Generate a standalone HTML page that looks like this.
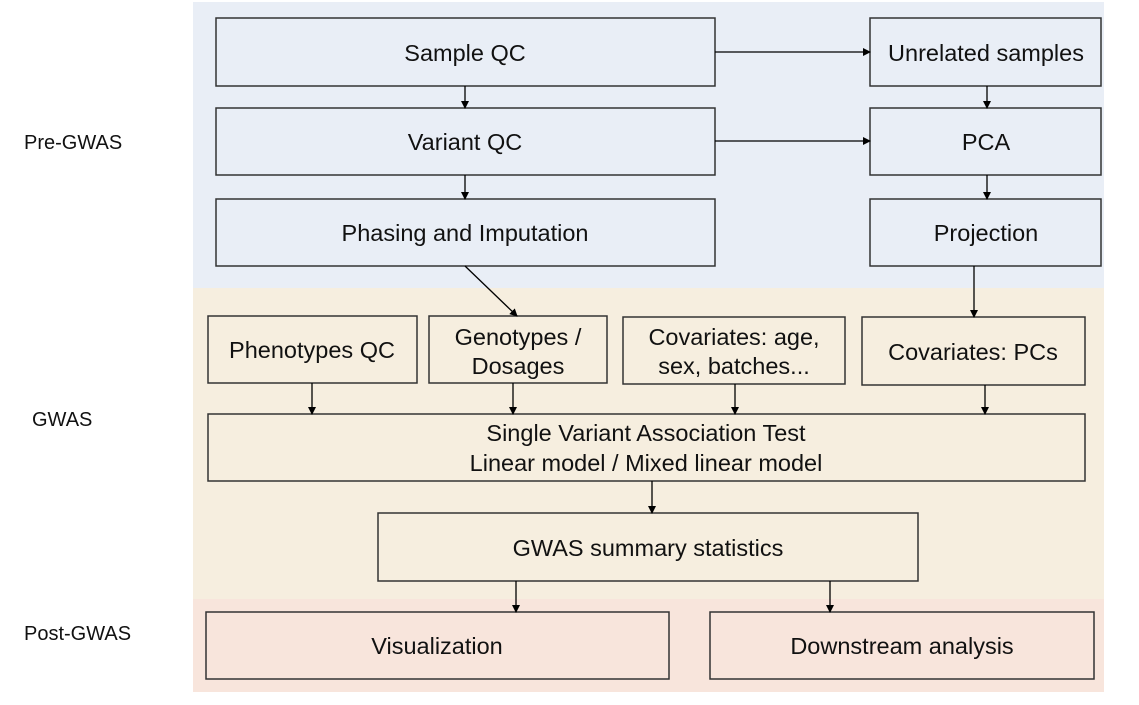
<!DOCTYPE html>
<html><head><style>
body{margin:0;width:1139px;height:700px;background:#fff;font-family:"Liberation Sans",Arial,sans-serif;overflow:hidden}
</style></head><body>
<svg width="1139" height="700" xmlns="http://www.w3.org/2000/svg" font-family="Liberation Sans, Arial, sans-serif">
<defs><marker id="a" markerWidth="8" markerHeight="8" refX="7" refY="4" orient="auto" markerUnits="userSpaceOnUse"><path d="M0,0 L8,4 L0,8 z" fill="#000"/></marker></defs>
<rect x="193" y="2" width="911" height="286" fill="#e9eef6"/>
<rect x="193" y="288" width="911" height="311" fill="#f6eedf"/>
<rect x="193" y="599" width="911" height="93" fill="#f8e5dc"/>
<g fill="none" stroke="#333" stroke-width="1.5">
<rect x="216" y="18" width="499" height="68"/>
<rect x="216" y="108" width="499" height="67"/>
<rect x="216" y="199" width="499" height="67"/>
<rect x="870" y="18" width="231" height="68"/>
<rect x="870" y="108" width="231" height="67"/>
<rect x="870" y="199" width="231" height="67"/>
<rect x="208" y="316" width="209" height="67"/>
<rect x="429" y="316" width="178" height="67"/>
<rect x="623" y="317" width="222" height="67"/>
<rect x="862" y="317" width="223" height="68"/>
<rect x="208" y="414" width="877" height="67"/>
<rect x="378" y="513" width="540" height="68"/>
<rect x="206" y="612" width="463" height="67"/>
<rect x="710" y="612" width="384" height="67"/>
</g>
<g stroke="#000" stroke-width="1.3" marker-end="url(#a)">
<line x1="715" y1="52" x2="870" y2="52"/>
<line x1="715" y1="141" x2="870" y2="141"/>
<line x1="465" y1="86" x2="465" y2="108"/>
<line x1="465" y1="175" x2="465" y2="199"/>
<line x1="987" y1="86" x2="987" y2="108"/>
<line x1="987" y1="175" x2="987" y2="199"/>
<line x1="465" y1="266" x2="517" y2="316"/>
<line x1="974" y1="266" x2="974" y2="317"/>
<line x1="312" y1="383" x2="312" y2="414"/>
<line x1="513" y1="383" x2="513" y2="414"/>
<line x1="735" y1="384" x2="735" y2="414"/>
<line x1="985" y1="385" x2="985" y2="414"/>
<line x1="652" y1="481" x2="652" y2="513"/>
<line x1="516" y1="581" x2="516" y2="612"/>
<line x1="830" y1="581" x2="830" y2="612"/>
</g>
<g font-size="23.5" fill="#111" text-anchor="middle">
<text x="465" y="61">Sample QC</text>
<text x="465" y="150">Variant QC</text>
<text x="465" y="241">Phasing and Imputation</text>
<text x="986" y="61">Unrelated samples</text>
<text x="986" y="150">PCA</text>
<text x="986" y="241">Projection</text>
<text x="312" y="358">Phenotypes QC</text>
<text x="518" y="345">Genotypes /</text>
<text x="518" y="374">Dosages</text>
<text x="734" y="345">Covariates: age,</text>
<text x="734" y="374">sex, batches...</text>
<text x="973" y="360">Covariates: PCs</text>
<text x="646" y="441">Single Variant Association Test</text>
<text x="646" y="471">Linear model / Mixed linear model</text>
<text x="648" y="556">GWAS summary statistics</text>
<text x="437" y="654">Visualization</text>
<text x="902" y="654">Downstream analysis</text>
</g>
<g font-size="20" fill="#111">
<text x="24" y="149">Pre-GWAS</text>
<text x="32" y="426">GWAS</text>
<text x="24" y="640">Post-GWAS</text>
</g>
</svg>
</body></html>
